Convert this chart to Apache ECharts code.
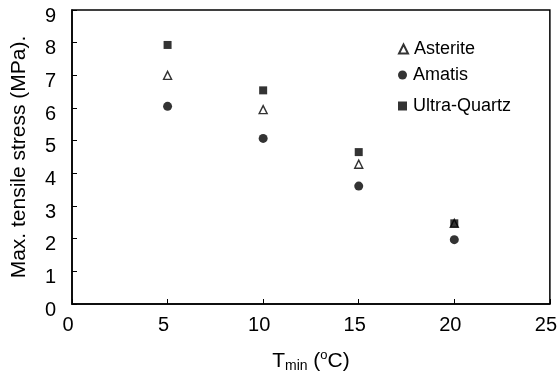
<!DOCTYPE html>
<html><head><meta charset="utf-8">
<script src="https://cdn.jsdelivr.net/npm/echarts@6/dist/echarts.min.js"></script>
<style>html,body{margin:0;padding:0;background:#fff}#c{width:560px;height:378px}</style>
</head><body><div id="c"></div>
<script>
const tmin = [5, 10, 15, 20];
const asterite = [7.0, 5.95, 4.28, 2.47];
const amatis = [6.05, 5.07, 3.61, 1.97];
const ultraQuartz = [7.93, 6.54, 4.65, 2.47];
const xTicks = [0, 5, 10, 15, 20, 25];
const yTicks = [0, 1, 2, 3, 4, 5, 6, 7, 8, 9];
const seriesNames = ['Asterite', 'Amatis', 'Ultra-Quartz'];

const chart = echarts.init(document.getElementById('c'), null, {renderer: 'canvas'});
const font = 'Liberation Sans, Arial, sans-serif';
const pts = (ys) => tmin.map((x, i) => [x, ys[i]]);
const legendTops = [40, 66, 97];
chart.setOption({
  animation: false,
  backgroundColor: '#fff',
  grid: {left: 72, right: 7, top: 10, bottom: 66, show: true, borderColor: '#000', borderWidth: 1.5, backgroundColor: 'transparent'},
  xAxis: {
    type: 'value', min: xTicks[0], max: xTicks[xTicks.length - 1], interval: 5,
    axisLine: {lineStyle: {color: '#000', width: 1.5}},
    axisTick: {inside: true, length: 5, lineStyle: {color: '#000'}},
    splitLine: {show: false},
    axisLabel: {color: '#000', fontSize: 20, fontFamily: font, margin: 11, padding: [0, 8, 0, 0]},
    name: '{t|T}{sub|min}{t| (}{sup|o}{t|C)}',
    nameLocation: 'middle', nameGap: 45,
    nameTextStyle: {
      rich: {
        t: {fontSize: 21, fontFamily: font, color: '#000', lineHeight: 24},
        sub: {fontSize: 14, fontFamily: font, color: '#000', verticalAlign: 'bottom', lineHeight: 24, padding: [8, 0, 0, 0]},
        sup: {fontSize: 13, fontFamily: font, color: '#000', verticalAlign: 'top', lineHeight: 24, padding: [0, 0, 7, 0]}
      }
    }
  },
  yAxis: {
    type: 'value', min: yTicks[0], max: yTicks[yTicks.length - 1], interval: 1,
    axisLine: {lineStyle: {color: '#000', width: 1.5}},
    axisTick: {inside: true, length: 5, lineStyle: {color: '#000'}},
    splitLine: {show: false},
    axisLabel: {color: '#000', fontSize: 20, fontFamily: font, margin: 16, verticalAlign: 'top', lineHeight: 12},
    name: 'Max. tensile stress (MPa).',
    nameLocation: 'middle', nameGap: 42,
    nameTextStyle: {color: '#000', fontSize: 21, fontFamily: font}
  },
  legend: seriesNames.map((n, i) => ({
    orient: 'vertical', left: 398, top: legendTops[i], padding: 0,
    itemWidth: 9, itemHeight: 9,
    textStyle: {color: '#000', fontSize: 18, fontFamily: font, padding: [0, 0, 0, 1]},
    data: [n]
  })),
  series: [
    {name: seriesNames[0], type: 'scatter', data: pts(asterite), symbol: 'triangle', symbolSize: 8, z: 2,
     itemStyle: {color: '#fff', borderColor: '#000', borderWidth: 1.4}},
    {name: seriesNames[1], type: 'scatter', data: pts(amatis), symbol: 'circle', symbolSize: 9, z: 3,
     itemStyle: {color: '#000'}},
    {name: seriesNames[2], type: 'scatter', data: pts(ultraQuartz), symbol: 'rect', symbolSize: 8, z: 4,
     itemStyle: {color: '#000'}}
  ]
});
</script></body></html>
